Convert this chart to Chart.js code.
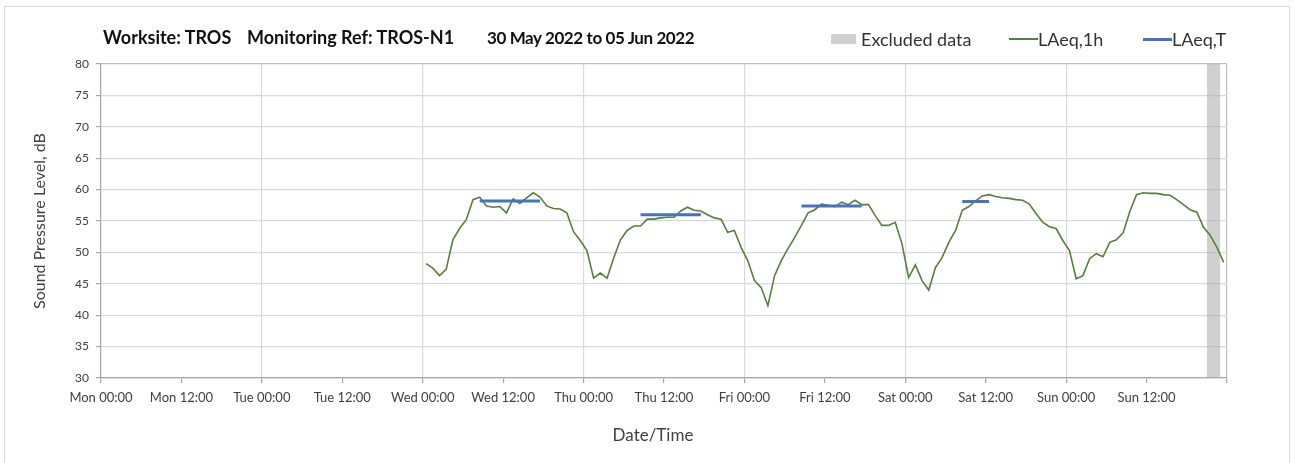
<!DOCTYPE html>
<html>
<head>
<meta charset="utf-8">
<script src="https://cdn.jsdelivr.net/npm/chart.js@4.4.0/dist/chart.umd.min.js"></script>
<style>
  html, body { margin: 0; padding: 0; background: #fff; }
  #wrap { position: relative; width: 1295px; height: 463px; overflow: hidden; }
  #frame { position: absolute; left: 4px; top: 6px; width: 1286px; height: 480px; border: 1px solid #d9d9d9; box-sizing: border-box; }
  #chart { position: absolute; left: 0; top: 0; }
  .ttl { position: absolute; top: 26px; font: bold 18px Lato, sans-serif; color: #111; white-space: pre; }
  .leg { position: absolute; top: 28px; font: 18px Lato, sans-serif; color: #333; white-space: pre; display: flex; align-items: center; }
  .sw-box { display: inline-block; width: 25px; height: 10px; background: #d0d0d0; margin-right: 5px; }
  .sw-line { display: inline-block; width: 29px; height: 2px; }
  #xtitle { position: absolute; left: 653px; top: 424px; transform: translateX(-50%); font: 17px Lato, sans-serif; color: #404040; }
</style>
</head>
<body>
<div id="wrap">
  <div id="frame"></div>
  <canvas id="chart" width="1295" height="463"></canvas>
  <div class="ttl" style="left:103px">Worksite: TROS</div>
  <div class="ttl" style="left:247px">Monitoring Ref: TROS-N1</div>
  <div class="ttl" style="left:487px;top:27px;font-size:17px;letter-spacing:-0.4px">30 May 2022 to 05 Jun 2022</div>
  <div class="leg" style="left:831px"><span class="sw-box"></span>Excluded data</div>
  <div class="leg" style="left:1009px"><span class="sw-line" style="background:#55803a"></span>LAeq,1h</div>
  <div class="leg" style="left:1143px"><span class="sw-line" style="background:#4472c4;height:3px"></span>LAeq,T</div>
  <div id="xtitle">Date/Time</div>
</div>
<script>
// Hours are counted from Mon 00:00; hourly values sit at the half hour.
const xTickLabels = ['Mon 00:00', 'Mon 12:00', 'Tue 00:00', 'Tue 12:00', 'Wed 00:00', 'Wed 12:00',
  'Thu 00:00', 'Thu 12:00', 'Fri 00:00', 'Fri 12:00', 'Sat 00:00', 'Sat 12:00', 'Sun 00:00', 'Sun 12:00'];

const firstHour = 48.5; // Wed 00:30

// LAeq,1h from Wed 00:30 to Sun 23:30
const laeq1h = [
  48.2, 47.5, 46.3, 47.3, 52.0, 53.8, 55.2, 58.4, 58.8, 57.4, 57.2, 57.3,
  56.3, 58.5, 57.8, 58.7, 59.5, 58.8, 57.4, 57.0, 56.9, 56.3, 53.3, 51.9,
  50.3, 45.9, 46.7, 45.9, 49.1, 52.0, 53.5, 54.2, 54.2, 55.3, 55.3, 55.5,
  55.6, 55.6, 56.6, 57.2, 56.7, 56.6, 56.0, 55.5, 55.3, 53.2, 53.5, 50.8,
  48.7, 45.5, 44.4, 41.5, 46.3, 48.7, 50.6, 52.4, 54.3, 56.3, 56.8, 57.7,
  57.5, 57.3, 58.0, 57.6, 58.3, 57.6, 57.6, 55.9, 54.3, 54.3, 54.8, 51.4,
  46.0, 48.0, 45.5, 44.0, 47.6, 49.2, 51.6, 53.5, 56.7, 57.3, 58.2, 59.0,
  59.2, 58.9, 58.7, 58.6, 58.4, 58.3, 57.7, 56.2, 54.8, 54.1, 53.8, 51.9,
  50.3, 45.8, 46.3, 49.0, 49.8, 49.3, 51.6, 52.0, 53.1, 56.5, 59.2, 59.5,
  59.4, 59.4, 59.2, 59.1, 58.4, 57.6, 56.8, 56.4, 54.0, 52.7, 50.8, 48.4
];

// LAeq,T over each working period
const periodStart = [56.5, 80.5, 104.5, 128.5];
const periodEnd   = [65.5, 89.5, 113.5, 132.5];
const laeqT       = [58.2, 56.0, 57.4, 58.1];

// Excluded data window (Sun 21:00 - 23:00)
const excludedStart = 165;
const excludedEnd = 167;

const GREEN = '#55803a';
const BLUE = '#4472c4';
const GRID = '#d9d9d9';
const AXIS = '#a6a6a6';

const datasets = [];

datasets.push({
  data: laeq1h.map((v, i) => ({ x: firstHour + i, y: v })),
  borderColor: GREEN,
  borderWidth: 1.6,
  pointRadius: 0,
  tension: 0,
  order: 1
});

periodStart.forEach((s, i) => {
  datasets.push({
    data: [{ x: s, y: laeqT[i] }, { x: periodEnd[i], y: laeqT[i] }],
    borderColor: BLUE,
    borderWidth: 3,
    pointRadius: 0,
    order: 0
  });
});

// grey band, semi-transparent so the grid stays visible through it
datasets.push({
  data: [{ x: excludedStart, y: 80 }, { x: excludedEnd, y: 80 }],
  borderWidth: 0,
  borderColor: 'transparent',
  backgroundColor: 'rgba(170,170,170,0.55)',
  fill: 'start',
  pointRadius: 0,
  order: 5
});

const tickFont = { family: 'Lato', size: 13 };

new Chart(document.getElementById('chart'), {
  type: 'line',
  data: { datasets: datasets },
  options: {
    responsive: false,
    animation: false,
    events: [],
    layout: { padding: { top: 64, right: 68, left: 0, bottom: 0 } },
    plugins: { legend: { display: false }, tooltip: { enabled: false } },
    scales: {
      x: {
        type: 'linear',
        min: 0,
        max: 168,
        afterFit: s => { s.height = 85; },
        ticks: {
          stepSize: 12,
          autoSkip: false,
          maxRotation: 0,
          padding: 7,
          color: '#404040',
          font: tickFont,
          callback: v => (v < 168 ? xTickLabels[v / 12] : '')
        },
        grid: {
          tickLength: 5,
          tickColor: AXIS,
          color: c => {
            const v = c.tick ? c.tick.value : 0;
            if (v === 168) return '#bfbfbf';
            return v > 0 && v % 24 === 0 ? GRID : 'transparent';
          },
          lineWidth: 1.2
        },
        border: { color: AXIS, width: 1.2 }
      },
      y: {
        min: 30,
        max: 80,
        afterFit: s => { s.width = 101; },
        ticks: {
          stepSize: 5,
          padding: 7,
          color: '#404040',
          font: { family: 'Lato', size: 12 }
        },
        grid: {
          tickLength: 5,
          tickColor: AXIS,
          color: c => (c.tick && c.tick.value === 80 ? '#bfbfbf' : GRID),
          lineWidth: 1.2
        },
        border: { color: AXIS, width: 1.2 },
        title: {
          display: true,
          text: 'Sound Pressure Level, dB',
          color: '#404040',
          font: { family: 'Lato', size: 16 },
          padding: { top: 30, bottom: 0 }
        }
      }
    }
  }
});
</script>
</body>
</html>
